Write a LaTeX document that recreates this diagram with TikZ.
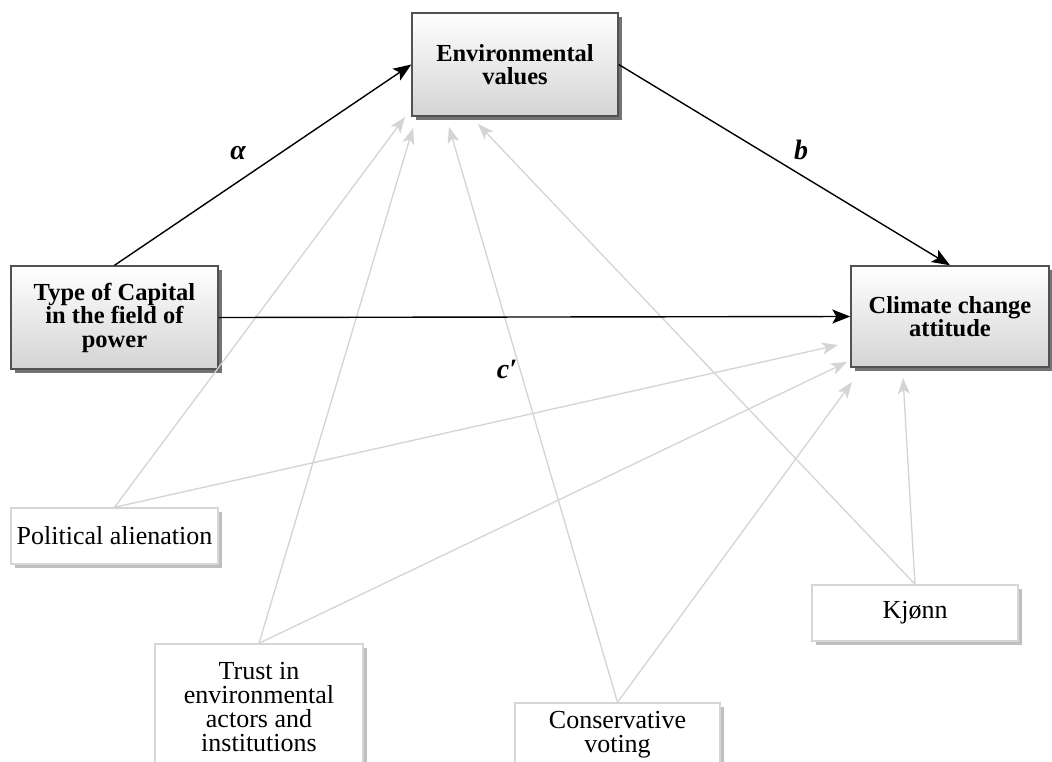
\documentclass[tikz,border=0pt]{standalone}
\usepackage{fontspec}
\setmainfont{Liberation Serif}
\usetikzlibrary{arrows.meta,shadows}

\tikzset{
  mainbox/.style={draw=black!68, line width=1.4pt, top color=white, bottom color=black!17,
    drop shadow={shadow xshift=3.5pt, shadow yshift=-3.5pt, fill=black!55, opacity=1},
    align=center, inner sep=4pt, font=\fontsize{24.5}{23.5}\selectfont\bfseries},
  ctrlbox/.style={draw=black!16, line width=1.4pt, fill=white,
    drop shadow={shadow xshift=4pt, shadow yshift=-4pt, fill=black!25, opacity=1},
    align=center, inner sep=4pt, font=\fontsize{26}{24}\selectfont},
  mainarrow/.style={draw=black, line width=1.4pt, -{Stealth[length=18pt,width=14pt,inset=4pt]}},
  ctrlarrow/.style={draw=black!17, line width=1.3pt, -{Stealth[length=16pt,width=12pt,inset=4pt]}},
  pathlabel/.style={font=\fontsize{28}{28}\selectfont\bfseries\itshape}
}

\begin{document}
\begin{tikzpicture}[x=1pt,y=-1pt]
  \clip (0,0) rectangle (1052,761);
  \fill[white] (0,0) rectangle (1052,761);

  % mediation model
  \node[mainbox, minimum width=206pt, minimum height=103pt] (env) at (515,64.5) {Environmental\\values};
  \node[mainbox, minimum width=207pt, minimum height=103pt] (cap) at (114.5,317.5) {Type of Capital\\in the field of\\power};
  \node[mainbox, minimum width=198pt, minimum height=101pt] (clim) at (950,316.5) {Climate change\\attitude};

  % control variables
  \node[ctrlbox, minimum width=207pt, minimum height=56pt] (pa) at (114.5,536) {Political alienation};
  \node[ctrlbox, minimum width=208pt, minimum height=126pt] (tr) at (259,707) {Trust in\\environmental\\actors and\\institutions};
  \node[ctrlbox, minimum width=205pt, minimum height=64pt] (cv) at (617.5,735) {Conservative\\voting};
  \node[ctrlbox, minimum width=206pt, minimum height=56pt] (kj) at (915,613) {Kjønn};

  % arrow end points below the outcome boxes
  \coordinate (envPA) at (405,117);
  \coordinate (envTR) at (413,128);
  \coordinate (envCV) at (449,127);
  \coordinate (envKJ) at (478,124);
  \coordinate (climPA) at (838,345);
  \coordinate (climTR) at (847,362);
  \coordinate (climCV) at (852,382);
  \coordinate (climKJ) at (903,378);

  % control paths
  \draw[ctrlarrow] (pa.north) -- (envPA);
  \draw[ctrlarrow] (pa.north) -- (climPA);
  \draw[ctrlarrow] (tr.north) -- (envTR);
  \draw[ctrlarrow] (tr.north) -- (climTR);
  \draw[ctrlarrow] (cv.north) -- (envCV);
  \draw[ctrlarrow] (cv.north) -- (climCV);
  \draw[ctrlarrow] (kj.north) -- (envKJ);
  \draw[ctrlarrow] (kj.north) -- (climKJ);

  % main paths
  \draw[mainarrow] (cap.north) -- (env.west);
  \draw[mainarrow] (env.east) -- (clim.north);
  \draw[mainarrow] (cap.east) -- (clim.west);

  \node[pathlabel] (la) at (238,153) {α};
  \node[pathlabel] (lb) at (801,150) {b};
  \node[pathlabel] (lc) at (507,369) {c′};
\end{tikzpicture}
\end{document}
